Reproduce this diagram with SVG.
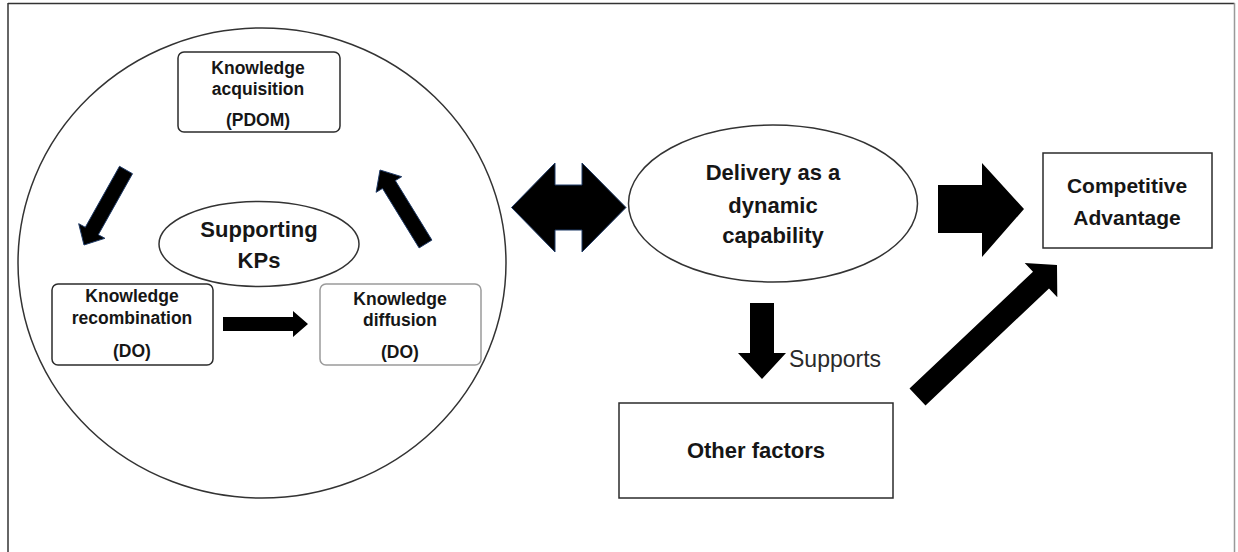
<svg xmlns="http://www.w3.org/2000/svg" width="1238" height="552" viewBox="0 0 1238 552">
  <style>
    .box { fill: #ffffff; stroke: #2b2b2b; stroke-width: 1.5; }
    .lbox { fill: #ffffff; stroke: #9a9a9a; stroke-width: 1.5; }
    .shape { fill: none; stroke: #333333; stroke-width: 1.5; }
    .lbl { font-family: "Liberation Sans", Arial, sans-serif; font-weight: bold; fill: #161616; text-anchor: middle; }
    .s { font-size: 17.5px; }
    .m { font-size: 21px; }
    .l { font-size: 22px; }
    .reg { font-family: "Liberation Sans", Arial, sans-serif; font-size: 23px; fill: #2a2a2a; }
    .arr { fill: #000000; }
    .arrb { fill: #000000; stroke: #1f3a66; stroke-width: 1; stroke-linejoin: miter; }
  </style>
  <rect x="0" y="0" width="1238" height="552" fill="#ffffff"/>
  <g id="frame">
    <line x1="8" y1="3.5" x2="1234.5" y2="3.5" stroke="#333333" stroke-width="1.5"/>
    <line x1="8" y1="3" x2="8" y2="552" stroke="#333333" stroke-width="1.5"/>
    <line x1="1234.5" y1="3" x2="1234.5" y2="552" stroke="#999999" stroke-width="1.5"/>
  </g>
  <g id="kp-circle">
    <ellipse class="shape" cx="262" cy="263" rx="244" ry="235"/>
  </g>
  <g id="knowledge-acquisition">
    <rect class="box" x="178" y="52" width="162" height="80" rx="6"/>
    <text class="lbl s" x="258" y="73.5">Knowledge</text>
    <text class="lbl s" x="258" y="94.5">acquisition</text>
    <text class="lbl s" x="258" y="126">(PDOM)</text>
  </g>
  <g id="supporting-kps">
    <ellipse class="shape" cx="259" cy="244" rx="100" ry="42.5"/>
    <text class="lbl l" x="259" y="236.5">Supporting</text>
    <text class="lbl l" x="259" y="268">KPs</text>
  </g>
  <g id="knowledge-recombination">
    <rect class="box" x="52" y="284" width="161" height="81" rx="6"/>
    <text class="lbl s" x="132" y="301.5">Knowledge</text>
    <text class="lbl s" x="132" y="323.5">recombination</text>
    <text class="lbl s" x="132" y="356.5">(DO)</text>
  </g>
  <g id="knowledge-diffusion">
    <rect class="lbox" x="320" y="284" width="161" height="81" rx="6"/>
    <text class="lbl s" x="400" y="304.5">Knowledge</text>
    <text class="lbl s" x="400" y="325.5">diffusion</text>
    <text class="lbl s" x="400" y="357.5">(DO)</text>
  </g>
  <g id="delivery">
    <ellipse class="shape" cx="773" cy="203.5" rx="144.5" ry="78.5"/>
    <text class="lbl l" x="773" y="180">Delivery as a</text>
    <text class="lbl l" x="773" y="212.5">dynamic</text>
    <text class="lbl l" x="773" y="243">capability</text>
  </g>
  <g id="competitive-advantage">
    <rect class="box" x="1043" y="153" width="169" height="95"/>
    <text class="lbl m" x="1127" y="192.5">Competitive</text>
    <text class="lbl m" x="1127" y="224.5">Advantage</text>
  </g>
  <g id="other-factors">
    <rect class="box" x="619" y="403" width="274" height="95"/>
    <text class="lbl l" x="756" y="458">Other factors</text>
  </g>
  <g id="connectors">
    <polygon class="arrb" points="132.5,173.7 98.3,234.7 104.9,238.3 84,245 78.7,223.7 85.3,227.3 119.5,166.3"/>
    <polygon class="arrb" points="431.9,240.1 395.3,180.6 401.7,176.7 380,170 376.1,192.3 382.5,188.4 419.1,247.9"/>
    <polygon class="arr" points="223,317 293,317 293,311 308,324 293,337 293,331 223,331"/>
    <polygon class="arrb" points="511.5,207.5 555,163 555,185 582,185 582,163 626,207.5 582,252 582,230 555,230 555,252"/>
    <polygon class="arr" points="938,185 982,185 982,163 1024,209 982,257 982,233 938,233"/>
    <polygon class="arr" points="750,303 774,303 774,353 786,353 762,379 738,353 750,353"/>
    <text class="reg" x="789" y="367">Supports</text>
    <polygon class="arr" points="909.5,388.6 1033,271.7 1024.7,262.9 1057,265 1057.3,297.3 1049,288.5 925.5,405.4"/>
  </g>
</svg>
